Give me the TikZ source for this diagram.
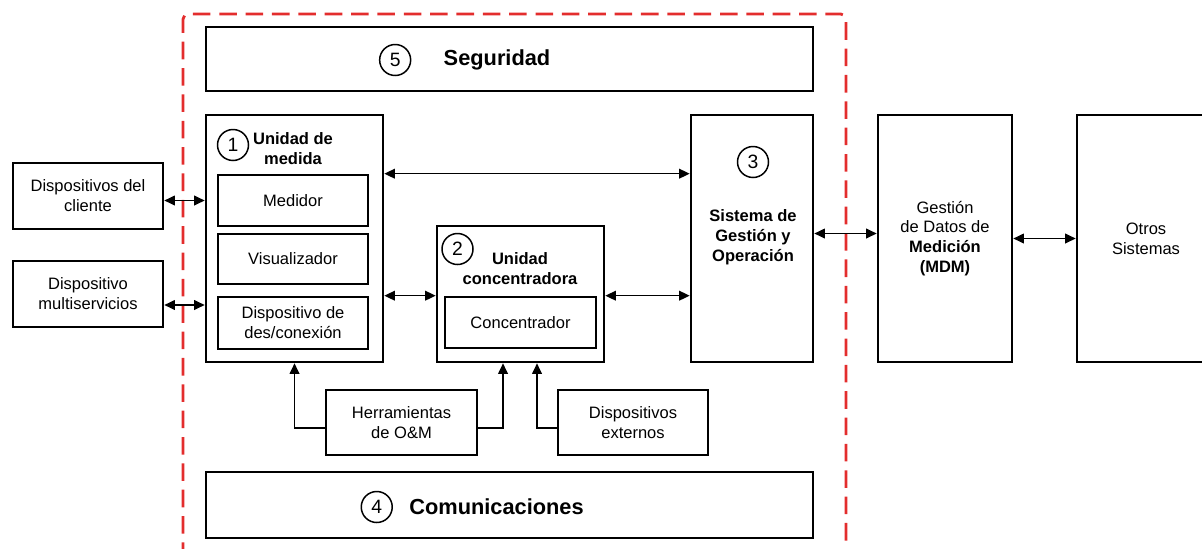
\documentclass[tikz,border=0pt]{standalone}
\usepackage{fontspec}
\setmainfont{Liberation Sans}
\usetikzlibrary{arrows.meta, positioning}
\definecolor{framered}{HTML}{E32D2D}

\begin{document}
\begin{tikzpicture}[
    x=0.02cm, y=-0.02cm,
    blk/.style 2 args={rectangle, draw, line width=1.5pt, minimum width=#1, minimum height=#2,
                       align=center, inner sep=0pt, font=\fontsize{9.4}{11.3}\selectfont},
    sub/.style={align=center, inner sep=0pt, font=\fontsize{9.4}{11.3}\selectfont\bfseries},
    head/.style={inner sep=0pt, font=\fontsize{12.4}{14}\selectfont\bfseries},
    num/.style={circle, draw, line width=0.85pt, minimum size=0.62cm, inner sep=0pt,
                font=\fontsize{11}{12}\selectfont},
    link/.style={{Triangle[length=6pt, width=5.5pt]}-{Triangle[length=6pt, width=5.5pt]}, line width=0.85pt},
    feed/.style={-{Triangle[length=6pt, width=5.5pt]}, line width=0.85pt},
    frame/.style={draw=framered, line width=1.6pt, dash pattern=on 10pt off 5pt, rounded corners=3pt}
]
    \useasboundingbox (0,0) rectangle (1202,548);

    % frame of the AMI components
    \draw[frame] (183,560) -- (183,14) -- (846,14) -- (846,560);

    % 5 - seguridad
    \node[blk={12.14cm}{1.28cm}] (seg) at (509.5,59) {};
    \node[head] (segtxt) at (497,60) {Seguridad};
    \node[num, left=0.64cm of segtxt] (n5) {5};

    % 1 - unidad de medida
    \node[blk={3.54cm}{4.94cm}] (um) at (294.5,238.5) {};
    \node[sub] (umtxt) at (293,149) {Unidad de\\medida};
    \node[num] (n1) at (233,145) {1};
    \node[blk={3cm}{1.02cm}] (med) at (293,200.5) {Medidor};
    \node[blk={3cm}{1cm}] (vis) at (293,259) {Visualizador};
    \node[blk={3cm}{1.04cm}] (desc) at (293,323) {Dispositivo de\\des/conexión};

    % 2 - unidad concentradora
    \node[blk={3.34cm}{2.72cm}] (uc) at (520.5,294) {};
    \node[sub] (uctxt) at (520,269) {Unidad\\concentradora};
    \node[num] (n2) at (457.5,249) {2};
    \node[blk={3.02cm}{1.02cm}] (conc) at (520.5,322.5) {Concentrador};

    % 3 - sistema de gestion
    \node[blk={2.44cm}{4.94cm}] (sgo) at (752,238.5) {};
    \node[num] (n3) at (753,162) {3};
    \node[sub] (sgotxt) at (753,237) {Sistema de\\Gestión y\\Operación};

    % outside the frame
    \node[blk={2.68cm}{4.94cm}] (mdm) at (945,238.5)
        {Gestión\\de Datos de\\\textbf{Medición}\\\textbf{(MDM)}};
    \node[blk={2.76cm}{4.94cm}] (otros) at (1146,238.5) {Otros\\Sistemas};
    \node[blk={3cm}{1.32cm}] (cli) at (88,196) {Dispositivos del\\cliente};
    \node[blk={3cm}{1.32cm}] (mult) at (88,294) {Dispositivo\\multiservicios};
    \node[blk={3.02cm}{1.3cm}] (herr) at (401.5,422.5) {Herramientas\\de O\&M};
    \node[blk={3cm}{1.3cm}] (ext) at (633,422.5) {Dispositivos\\externos};

    % 4 - comunicaciones
    \node[blk={12.14cm}{1.32cm}] (com) at (509.5,505) {};
    \node[head] (comtxt) at (496.5,507) {Comunicaciones};
    \node[num, left=0.32cm of comtxt] (n4) {4};

    % links
    \draw[link] (cli.east |- med) -- (um.west |- med);
    \draw[link] ([yshift=-0.22cm]mult.east) -- ([yshift=-0.22cm]mult.east -| um.west);
    \draw[link] (um.east |- med.north) -- (sgo.west |- med.north);
    \draw[link] (um.east |- conc.north) -- (uc.west |- conc.north);
    \draw[link] (uc.east |- conc.north) -- (sgo.west |- conc.north);
    \draw[link] ([yshift=0.1cm]sgo.east) -- ([yshift=0.1cm]sgo.east -| mdm.west);
    \draw[link] (mdm.east) -- (otros.west);

    \draw[feed] ([yshift=-0.11cm]herr.west) -| (um.south);
    \draw[feed] ([yshift=-0.11cm]herr.east) -| ([xshift=-0.35cm]uc.south);
    \draw[feed] ([yshift=-0.11cm]ext.west) -| ([xshift=0.33cm]uc.south);

\end{tikzpicture}
\end{document}
